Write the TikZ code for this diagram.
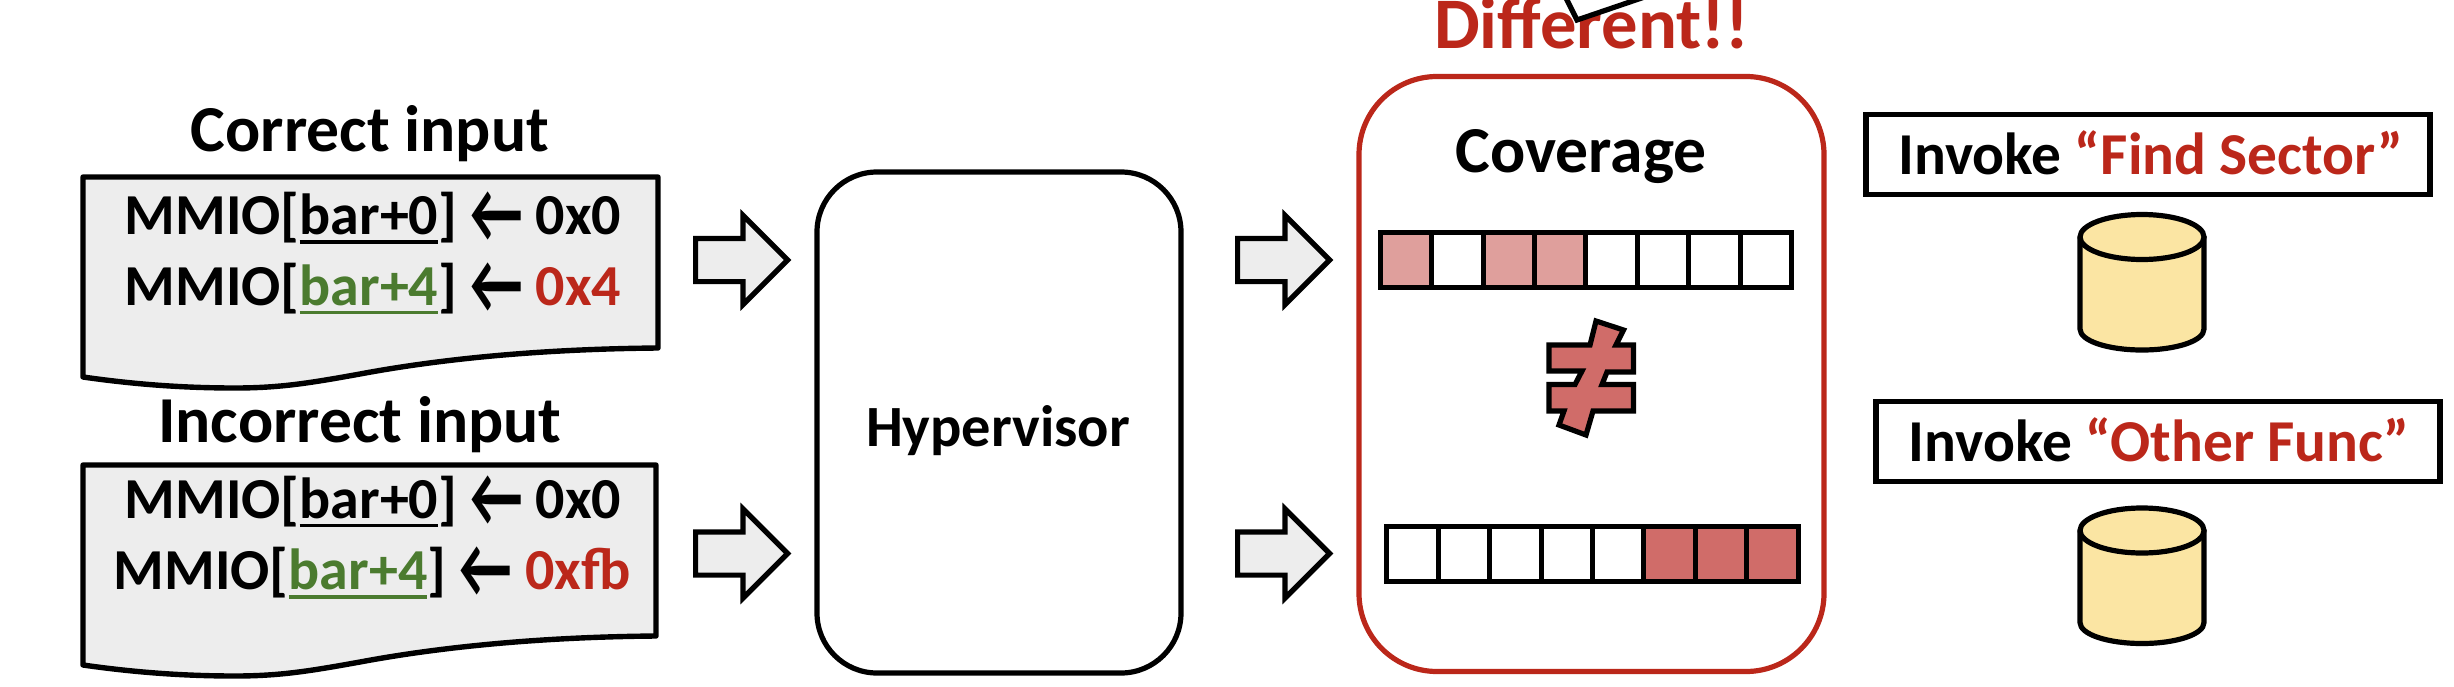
\documentclass[tikz,border=0pt]{standalone}
\usepackage{fontspec}
\usepackage{tikz}
\usetikzlibrary{shapes.arrows}
\setmainfont{Carlito}

\definecolor{alertred}{HTML}{BB271A}
\definecolor{okgreen}{HTML}{4B7B2F}
\definecolor{sheetgray}{HTML}{EDEDED}
\definecolor{hitlight}{HTML}{DF9F9C}
\definecolor{hitdark}{HTML}{D06C69}
\definecolor{diskyellow}{HTML}{FBE5A3}

\newcommand{\regoff}[1]{\setbox0\hbox{#1}\rlap{\rule[-0.16em]{\wd0}{0.06em}}\box0}
\newcommand{\writes}{\raisebox{-0.14em}{\scalebox{1}[1.5]{←}}}

\tikzset{
    title/.style = {anchor=base, inner sep=0pt, font=\fontsize{32.8}{36}\selectfont\bfseries},
    mmio/.style = {anchor=base, inner sep=0pt, font=\fontsize{29}{34}\selectfont\bfseries},
    invoke/.style = {anchor=base, inner sep=0pt, font=\fontsize{29.7}{34}\selectfont\bfseries},
    sheet/.style = {draw, line width=2.7pt, fill=sheetgray, line join=round},
    flow/.style = {single arrow, draw, line width=2.6pt, fill=sheetgray, anchor=tail,
                   inner xsep=0pt, inner ysep=9.5pt, minimum height=46pt,
                   single arrow head extend=11.5pt, single arrow tip angle=90,
                   single arrow head indent=0pt},
    covercell/.style = {draw, line width=2.5pt, inner sep=0pt, minimum width=25.7pt, minimum height=27.5pt},
    invokebox/.style = {draw, line width=2.6pt, inner sep=0pt, minimum width=282pt, minimum height=40pt},
    disk/.style = {draw, line width=2.6pt, fill=diskyellow, line join=round},
}

\begin{document}
\begin{tikzpicture}[x=.5pt, y=-.5pt]
    \useasboundingbox (0,0) rectangle (2454,686);

    % the two inputs
    \foreach \docx/\docy in {658/177,656/465}
        \draw[sheet] (83,\docy) -- (\docx,\docy) -- (\docx,\docy+171)
            .. controls (540,\docy+172) and (440,\docy+182) .. (360,\docy+197)
            .. controls (310,\docy+206) and (280,\docy+211) .. (235,\docy+211)
            .. controls (175,\docy+211) and (125,\docy+206) .. (83,\docy+200) -- cycle;

    \node[title] (correct) at (370,151) {Correct input};
    \node[title] (incorrect) at (360,442.5) {Incorrect input};
    \node[mmio] (corrtop) at (373,234.5) {MMIO[\regoff{bar+0}] \writes{} 0x0};
    \node[mmio] (corrbot) at (373,305) {MMIO[\textcolor{okgreen}{\regoff{bar+4}}] \writes{} \textcolor{alertred}{0x4}};
    \node[mmio] (incotop) at (373,518) {MMIO[\regoff{bar+0}] \writes{} 0x0};
    \node[mmio] (incobot) at (372,589.5) {MMIO[\textcolor{okgreen}{\regoff{bar+4}}] \writes{} \textcolor{alertred}{0xfb}};

    \node[flow] (flowa) at (693,260) {};
    \node[flow] (flowb) at (693,553.5) {};
    \node[flow] (flowc) at (1235,260) {};
    \node[flow] (flowd) at (1235,553.5) {};

    % hypervisor
    \node[draw, line width=2.6pt, rounded corners=30pt, minimum width=182pt, minimum height=250.5pt,
          inner sep=0pt] (hyper) at (999,422.5) {};
    \node[anchor=base, inner sep=0pt, font=\fontsize{29.2}{34}\selectfont\bfseries] (hypertxt) at (998,446) {Hypervisor};

    % coverage
    \node[draw=alertred, line width=2.6pt, rounded corners=39pt, minimum width=232.5pt, minimum height=297.5pt,
          inner sep=0pt] (cover) at (1591.5,374) {};
    \node[title] (covertxt) at (1581,172) {Coverage};

    \foreach \i/\tint in {0/hitlight,1/white,2/hitlight,3/hitlight,4/white,5/white,6/white,7/white}
        \node[covercell, fill=\tint] (cella\i) at (1406+\i*51.4,260) {};
    \foreach \i/\tint in {0/white,1/white,2/white,3/white,4/white,5/hitdark,6/hitdark,7/hitdark}
        \node[covercell, fill=\tint] (cellb\i) at (1412.5+\i*51.4,553.5) {};

    \draw[line width=2.6pt, fill=hitdark, line join=miter]
        (1596,321) -- (1623.5,330) -- (1616,345) -- (1633.5,345) -- (1633.5,372) -- (1607,372)
        -- (1602,384.5) -- (1633.5,384.5) -- (1633.5,411) -- (1593,411) -- (1586,435) -- (1559,425)
        -- (1564,411) -- (1549,411) -- (1549,384.5) -- (1575,384.5) -- (1582,371) -- (1549,371)
        -- (1549,345) -- (1590,345) -- cycle;

    \node[title, font=\fontsize{36.3}{42}\selectfont\bfseries, text=alertred] (differ) at (1591.5,48) {Different!!};
    \draw[line width=2.6pt, fill=white, line join=miter] (1562,-10) -- (1577,20) -- (1665,-10) -- cycle;

    % results
    \node[invokebox] (invfind) at (2148,154.5) {};
    \node[invoke] (findtxt) at (2151,174.5) {Invoke \textcolor{alertred}{“Find Sector”}};
    \node[invokebox] (invother) at (2158,441.5) {};
    \node[invoke] (othertxt) at (2159,461) {Invoke \textcolor{alertred}{“Other Func”}};

    \foreach \disky in {237,530.5} {
        \draw[disk] (2080,\disky) -- (2080,\disky+92)
            .. controls (2080,\disky+104) and (2108,\disky+113) .. (2142,\disky+113)
            .. controls (2176,\disky+113) and (2204,\disky+104) .. (2204,\disky+92) -- (2204,\disky) -- cycle;
        \draw[disk] (2142,\disky) ellipse [x radius=62, y radius=22.5];
    }
\end{tikzpicture}
\end{document}
